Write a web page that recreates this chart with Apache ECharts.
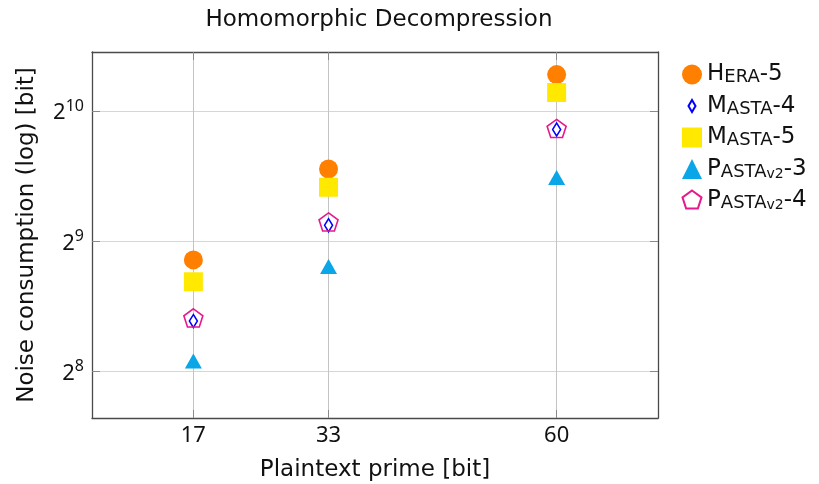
<!DOCTYPE html>
<html>
<head>
<meta charset="utf-8">
<script src="https://cdn.jsdelivr.net/npm/echarts@6/dist/echarts.min.js"></script>
<style>html,body{margin:0;padding:0;background:#fff;}#c{width:819px;height:484px;}</style>
</head>
<body>
<div id="c"></div>
<script>
// ---- data ----
const primes = [17, 33, 60];
const yTicks = [256, 512, 1024];
const hera5 = [464, 753, 1244];
const masta4 = [335, 558, 929];
const masta5 = [413, 683, 1131];
const pasta3 = [271, 448, 719];
const pasta4 = [339, 565, 929];

const FONT = '"DejaVu Sans", sans-serif';
const NUMFONT = '"Noto Sans", sans-serif';
const pentagon = 'path://M-1,-1M1,1M0,-1L0.951,-0.309L0.588,0.809L-0.588,0.809L-0.951,-0.309Z';
const diamondLegend = 'path://M0,0M20,20M10,4L13.5,10L10,16L6.5,10Z';

function pts(vals) { return primes.map((p, i) => [p, vals[i]]); }

const chart = echarts.init(document.getElementById('c'), null, { renderer: 'canvas' });

const rich = {
  big: { fontSize: 23, fontFamily: FONT, color: '#111', lineHeight: 24 },
  sc: { fontSize: 18, fontFamily: FONT, color: '#111', lineHeight: 21, verticalAlign: 'bottom' },
  sub: { fontSize: 14, fontFamily: FONT, color: '#111', lineHeight: 4, verticalAlign: 'bottom' }
};
const legendText = {
  'Hera-5': '{big|H}{sc|ERA}{big|-5}',
  'Masta-4': '{big|M}{sc|ASTA}{big|-4}',
  'Masta-5': '{big|M}{sc|ASTA}{big|-5}',
  'Pasta-3': '{big|P}{sc|ASTA}{sub|v2}{big|-3}',
  'Pasta-4': '{big|P}{sc|ASTA}{sub|v2}{big|-4}'
};

const frame = { show: true, lineStyle: { color: '#4a4a4a', width: 1.3 } };
const tick = { show: true, inside: true, length: 8, lineStyle: { color: '#8a8a8a', width: 1 } };

chart.setOption({
  animation: false,
  backgroundColor: '#fff',
  title: {
    text: 'Homomorphic Decompression',
    left: 374, top: 4, textAlign: 'center',
    textStyle: { fontFamily: FONT, fontSize: 23, fontWeight: 'normal', color: '#111' }
  },
  grid: { left: 92, top: 52, width: 566, height: 366, containLabel: false, outerBoundsMode: 'none' },
  legend: {
    orient: 'vertical', left: 676, top: 58,
    itemWidth: 20, itemHeight: 20, itemGap: 8,
    formatter: n => legendText[n],
    textStyle: { rich: rich },
    data: [
      { name: 'Hera-5' },
      { name: 'Masta-4', icon: diamondLegend },
      { name: 'Masta-5' },
      { name: 'Pasta-3' },
      { name: 'Pasta-4' }
    ]
  },
  xAxis: [{
    type: 'value', min: 5, max: 72, position: 'bottom',
    axisLine: frame,
    axisTick: Object.assign({ customValues: primes }, tick),
    axisLabel: { customValues: primes, fontFamily: NUMFONT, fontSize: 22, color: '#111', margin: 7 },
    splitLine: { show: true, lineStyle: { color: '#c4c4c4', width: 1 } },
    name: 'Plaintext prime [bit]', nameLocation: 'middle', nameGap: 41,
    nameTextStyle: { fontFamily: FONT, fontSize: 23, color: '#111' }
  }, {
    type: 'value', min: 5, max: 72, position: 'top',
    axisLine: frame,
    axisTick: Object.assign({ customValues: primes }, tick),
    axisLabel: { show: false, customValues: primes },
    splitLine: { show: false }
  }],
  yAxis: [{
    type: 'log', logBase: 2, min: 200, max: 1403, position: 'left',
    axisLine: frame,
    axisTick: Object.assign({ customValues: yTicks }, tick),
    axisLabel: {
      customValues: yTicks, margin: 8,
      formatter: v => '{b|2}{s|' + Math.round(Math.log2(v)) + '}',
      rich: {
        b: { fontFamily: NUMFONT, fontSize: 22, color: '#111', lineHeight: 26, verticalAlign: 'bottom' },
        s: { fontFamily: NUMFONT, fontSize: 16, color: '#111', lineHeight: 16, verticalAlign: 'top' }
      }
    },
    splitLine: { show: true, lineStyle: { color: '#d6d6d6', width: 1 } },
    name: 'Noise consumption (log) [bit]', nameLocation: 'middle', nameGap: 53, nameRotate: 90,
    nameTextStyle: { fontFamily: FONT, fontSize: 23, color: '#111' }
  }, {
    type: 'log', logBase: 2, min: 200, max: 1403, position: 'right',
    axisLine: frame,
    axisTick: Object.assign({ customValues: yTicks }, tick),
    axisLabel: { show: false, customValues: yTicks },
    splitLine: { show: false }
  }],
  series: [
    { name: 'Hera-5', type: 'scatter', symbol: 'circle', symbolSize: 19,
      itemStyle: { color: '#ff7f00', opacity: 1 }, data: pts(hera5) },
    { name: 'Masta-4', type: 'scatter', symbol: 'diamond', symbolSize: [8, 13],
      itemStyle: { color: '#ffffff', borderColor: '#0000ff', borderWidth: 1.6, opacity: 1 }, data: pts(masta4) },
    { name: 'Masta-5', type: 'scatter', symbol: 'rect', symbolSize: 19,
      itemStyle: { color: '#ffe900', opacity: 1 }, data: pts(masta5) },
    { name: 'Pasta-3', type: 'scatter', symbol: 'triangle', symbolSize: [17, 15],
      itemStyle: { color: '#0aa6e8', opacity: 1 }, data: pts(pasta3) },
    { name: 'Pasta-4', type: 'scatter', symbol: pentagon, symbolSize: 20, symbolKeepAspect: true,
      itemStyle: { color: 'rgba(255,255,255,0)', borderColor: '#e6198c', borderWidth: 1.6, opacity: 1 }, data: pts(pasta4) }
  ]
});
</script>
</body>
</html>
